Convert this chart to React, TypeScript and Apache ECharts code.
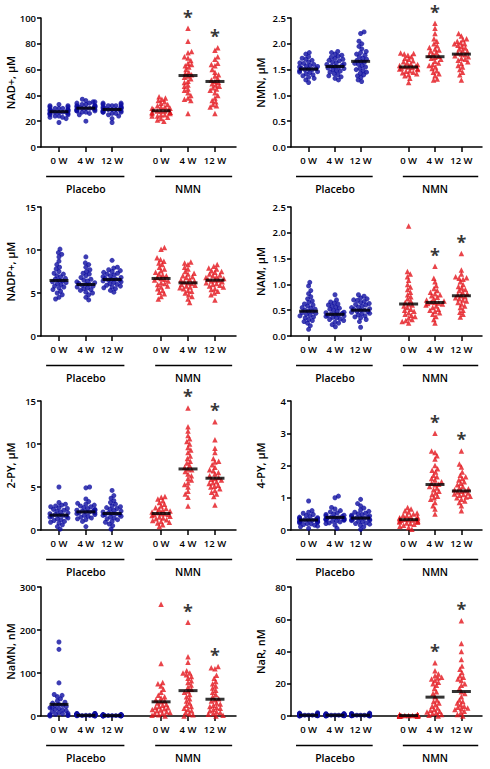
import React, { useEffect, useRef } from "react";
import * as echarts from "echarts";

// ---------- labels ----------
const timeLabels = ["0 W", "4 W", "12 W", "0 W", "4 W", "12 W"];
const groupNames = ["Placebo", "NMN"];
// x positions of the six groups on each panel's x value axis (0..7.6)
const catPos = [0.7, 1.75, 2.77, 4.68, 5.73, 6.78];

// ---------- data: groups = Placebo 0W, 4W, 12W, NMN 0W, 4W, 12W ----------
const nadPlus: number[][] = [
  [19, 22, 23, 24, 24, 25, 25, 26, 26, 26, 27, 27, 27, 27, 28, 28, 28, 28, 29, 29, 29, 30, 30, 30, 31, 31, 32, 32, 33, 23],
  [20, 25, 26, 27, 27, 28, 28, 29, 29, 29, 30, 30, 30, 30, 31, 31, 31, 32, 32, 32, 33, 33, 34, 34, 35, 35, 36, 37, 28, 31],
  [19, 22, 24, 25, 26, 26, 27, 27, 28, 28, 28, 29, 29, 29, 29, 30, 30, 30, 31, 31, 31, 32, 32, 33, 33, 34, 34, 27, 30, 32],
  [20, 21, 22, 23, 24, 24, 25, 25, 26, 26, 27, 27, 27, 28, 28, 28, 29, 29, 30, 30, 31, 31, 32, 33, 34, 35, 36, 37, 38, 39],
  [92, 82, 74, 73, 70, 69, 67, 65, 64, 63, 62, 60, 58, 57, 56, 55, 54, 53, 51, 50, 48, 47, 45, 44, 42, 40, 38, 37, 36, 26],
  [77, 75, 70, 68, 65, 64, 63, 60, 58, 56, 55, 53, 52, 51, 50, 49, 48, 47, 46, 45, 44, 42, 40, 38, 36, 35, 33, 32, 31, 26],
];
const nadPlusMedians = [27.4, 30.1, 29.1, 28.1, 55.4, 50.8];

const nmn: number[][] = [
  [1.25, 1.3, 1.33, 1.35, 1.38, 1.4, 1.42, 1.44, 1.45, 1.46, 1.48, 1.5, 1.5, 1.51, 1.52, 1.53, 1.55, 1.56, 1.57, 1.58, 1.6, 1.62, 1.63, 1.65, 1.68, 1.7, 1.72, 1.75, 1.8, 1.83],
  [1.3, 1.33, 1.36, 1.38, 1.4, 1.42, 1.45, 1.47, 1.48, 1.5, 1.52, 1.53, 1.55, 1.56, 1.57, 1.58, 1.6, 1.61, 1.63, 1.65, 1.67, 1.68, 1.7, 1.72, 1.74, 1.76, 1.78, 1.8, 1.83, 1.85],
  [1.27, 1.3, 1.35, 1.38, 1.4, 1.43, 1.45, 1.48, 1.5, 1.52, 1.55, 1.58, 1.6, 1.62, 1.64, 1.66, 1.68, 1.7, 1.72, 1.75, 1.78, 1.8, 1.83, 1.85, 1.9, 1.95, 2.0, 2.05, 2.2, 2.23],
  [1.25, 1.33, 1.38, 1.4, 1.42, 1.44, 1.45, 1.47, 1.48, 1.5, 1.51, 1.52, 1.53, 1.54, 1.55, 1.56, 1.57, 1.58, 1.6, 1.61, 1.63, 1.65, 1.67, 1.7, 1.72, 1.75, 1.78, 1.8, 1.81, 1.82],
  [1.3, 1.32, 1.38, 1.42, 1.45, 1.48, 1.52, 1.55, 1.58, 1.6, 1.63, 1.66, 1.7, 1.72, 1.74, 1.76, 1.78, 1.8, 1.83, 1.86, 1.88, 1.9, 1.93, 1.96, 2.0, 2.05, 2.1, 2.2, 2.3, 2.4],
  [1.3, 1.4, 1.45, 1.5, 1.55, 1.58, 1.62, 1.65, 1.68, 1.7, 1.72, 1.75, 1.77, 1.79, 1.8, 1.82, 1.85, 1.87, 1.9, 1.92, 1.95, 1.97, 2.0, 2.0, 2.02, 2.05, 2.08, 2.1, 2.15, 2.2],
];
const nmnMedians = [1.51, 1.56, 1.66, 1.55, 1.75, 1.8];

const nadp: number[][] = [
  [4.3, 4.5, 4.8, 5.0, 5.2, 5.4, 5.6, 5.7, 5.8, 6.0, 6.1, 6.2, 6.3, 6.4, 6.5, 6.6, 6.7, 6.9, 7.0, 7.2, 7.3, 7.5, 7.8, 8.0, 8.3, 8.7, 9.2, 9.5, 9.7, 10.1],
  [4.2, 4.5, 4.8, 5.0, 5.1, 5.3, 5.4, 5.5, 5.6, 5.7, 5.8, 5.9, 6.0, 6.0, 6.1, 6.2, 6.3, 6.4, 6.5, 6.6, 6.8, 7.0, 7.2, 7.3, 7.5, 7.7, 8.0, 8.3, 8.5, 9.2],
  [5.1, 5.3, 5.5, 5.6, 5.7, 5.8, 5.9, 6.0, 6.1, 6.2, 6.3, 6.4, 6.5, 6.5, 6.6, 6.6, 6.7, 6.8, 6.9, 7.0, 7.1, 7.2, 7.3, 7.4, 7.5, 7.6, 7.7, 7.9, 8.0, 8.8],
  [4.3, 4.6, 4.9, 5.1, 5.3, 5.5, 5.7, 5.8, 6.0, 6.1, 6.2, 6.4, 6.5, 6.6, 6.7, 6.8, 7.0, 7.1, 7.2, 7.4, 7.6, 7.8, 8.0, 8.3, 8.5, 8.7, 8.9, 9.1, 10.1, 10.3],
  [3.9, 4.3, 4.6, 4.8, 5.0, 5.2, 5.3, 5.5, 5.6, 5.7, 5.8, 5.9, 6.0, 6.1, 6.2, 6.3, 6.4, 6.5, 6.6, 6.8, 6.9, 7.0, 7.2, 7.3, 7.5, 7.8, 8.0, 8.3, 8.5, 8.6],
  [4.2, 4.8, 5.0, 5.2, 5.4, 5.5, 5.7, 5.8, 5.9, 6.0, 6.1, 6.2, 6.3, 6.4, 6.5, 6.5, 6.6, 6.7, 6.8, 6.9, 7.0, 7.1, 7.2, 7.4, 7.5, 7.6, 7.8, 7.9, 8.1, 8.3],
];
const nadpMedians = [6.46, 5.99, 6.57, 6.69, 6.18, 6.49];

const nam: number[][] = [
  [0.13, 0.2, 0.25, 0.28, 0.3, 0.32, 0.35, 0.37, 0.39, 0.4, 0.42, 0.44, 0.45, 0.47, 0.48, 0.5, 0.52, 0.54, 0.55, 0.58, 0.6, 0.62, 0.65, 0.68, 0.72, 0.76, 0.82, 0.88, 0.97, 1.04],
  [0.18, 0.22, 0.25, 0.27, 0.3, 0.32, 0.33, 0.35, 0.36, 0.38, 0.39, 0.4, 0.41, 0.42, 0.43, 0.44, 0.45, 0.46, 0.48, 0.5, 0.52, 0.54, 0.56, 0.58, 0.6, 0.62, 0.64, 0.66, 0.7, 0.8],
  [0.17, 0.28, 0.32, 0.35, 0.37, 0.39, 0.41, 0.43, 0.44, 0.46, 0.47, 0.48, 0.5, 0.5, 0.52, 0.53, 0.55, 0.56, 0.58, 0.6, 0.61, 0.63, 0.65, 0.67, 0.69, 0.7, 0.72, 0.74, 0.77, 0.8],
  [0.25, 0.28, 0.3, 0.32, 0.35, 0.38, 0.4, 0.42, 0.45, 0.48, 0.5, 0.52, 0.55, 0.58, 0.6, 0.62, 0.65, 0.68, 0.72, 0.76, 0.8, 0.85, 0.9, 0.95, 1.0, 1.08, 1.15, 1.2, 1.25, 2.13],
  [0.25, 0.32, 0.38, 0.42, 0.45, 0.48, 0.5, 0.52, 0.55, 0.58, 0.6, 0.62, 0.63, 0.64, 0.65, 0.66, 0.68, 0.7, 0.72, 0.75, 0.78, 0.8, 0.82, 0.85, 0.88, 0.92, 0.98, 1.05, 1.12, 1.35],
  [0.37, 0.42, 0.46, 0.5, 0.55, 0.58, 0.62, 0.65, 0.68, 0.7, 0.72, 0.74, 0.76, 0.78, 0.8, 0.82, 0.85, 0.88, 0.9, 0.93, 0.96, 1.0, 1.05, 1.1, 1.12, 1.13, 1.15, 1.2, 1.28, 1.6],
];
const namMedians = [0.48, 0.42, 0.5, 0.62, 0.65, 0.78];

const py2: number[][] = [
  [0.1, 0.4, 0.6, 0.8, 0.9, 1.0, 1.1, 1.2, 1.3, 1.4, 1.5, 1.6, 1.6, 1.7, 1.7, 1.8, 1.9, 2.0, 2.1, 2.2, 2.3, 2.4, 2.5, 2.6, 2.7, 2.8, 2.9, 3.0, 3.2, 5.0],
  [0.4, 1.0, 1.2, 1.3, 1.4, 1.5, 1.6, 1.7, 1.8, 1.9, 2.0, 2.0, 2.1, 2.1, 2.2, 2.2, 2.3, 2.3, 2.4, 2.5, 2.6, 2.7, 2.8, 2.9, 3.0, 3.1, 3.3, 3.6, 4.9, 5.0],
  [0.1, 0.5, 0.7, 0.9, 1.0, 1.2, 1.3, 1.4, 1.5, 1.6, 1.7, 1.8, 1.8, 1.9, 1.9, 2.0, 2.1, 2.2, 2.3, 2.4, 2.5, 2.6, 2.7, 2.8, 3.0, 3.2, 3.4, 3.7, 4.0, 4.6],
  [0.4, 0.6, 0.8, 0.9, 1.0, 1.1, 1.2, 1.3, 1.4, 1.5, 1.6, 1.7, 1.8, 1.8, 1.9, 1.9, 2.0, 2.1, 2.2, 2.3, 2.4, 2.5, 2.6, 2.8, 3.0, 3.2, 3.4, 3.6, 3.8, 3.9],
  [2.8, 3.8, 4.2, 4.5, 5.0, 5.3, 5.5, 5.8, 6.0, 6.3, 6.5, 6.8, 7.0, 7.1, 7.3, 7.5, 7.8, 8.0, 8.3, 8.6, 9.0, 9.3, 9.6, 10.0, 10.3, 10.6, 11.0, 11.5, 12.0, 14.2],
  [2.9, 3.9, 4.2, 4.4, 4.6, 4.8, 5.0, 5.1, 5.2, 5.4, 5.5, 5.6, 5.8, 5.9, 6.0, 6.1, 6.3, 6.5, 6.7, 6.9, 7.0, 7.3, 7.6, 7.9, 8.0, 8.3, 9.0, 9.5, 10.5, 12.6],
];
const py2Medians = [1.73, 2.11, 1.92, 1.92, 7.1, 6.02];

const py4: number[][] = [
  [0.05, 0.1, 0.12, 0.15, 0.17, 0.19, 0.2, 0.22, 0.24, 0.25, 0.26, 0.27, 0.28, 0.29, 0.3, 0.31, 0.32, 0.33, 0.34, 0.35, 0.37, 0.38, 0.4, 0.42, 0.45, 0.48, 0.52, 0.55, 0.6, 0.9],
  [0.05, 0.15, 0.2, 0.22, 0.25, 0.27, 0.28, 0.3, 0.31, 0.32, 0.33, 0.34, 0.35, 0.36, 0.37, 0.38, 0.39, 0.4, 0.42, 0.44, 0.46, 0.48, 0.5, 0.53, 0.56, 0.6, 0.65, 0.7, 1.0, 1.05],
  [0.02, 0.1, 0.15, 0.18, 0.2, 0.22, 0.25, 0.27, 0.29, 0.3, 0.32, 0.33, 0.35, 0.36, 0.37, 0.38, 0.4, 0.42, 0.44, 0.46, 0.48, 0.5, 0.52, 0.55, 0.58, 0.62, 0.68, 0.75, 0.82, 0.95],
  [0.02, 0.08, 0.12, 0.15, 0.18, 0.2, 0.22, 0.24, 0.25, 0.27, 0.28, 0.29, 0.3, 0.31, 0.32, 0.33, 0.34, 0.35, 0.36, 0.38, 0.4, 0.42, 0.44, 0.46, 0.5, 0.53, 0.56, 0.6, 0.65, 0.7],
  [0.5, 0.65, 0.75, 0.85, 0.95, 1.0, 1.05, 1.1, 1.15, 1.2, 1.25, 1.3, 1.35, 1.4, 1.42, 1.45, 1.5, 1.55, 1.6, 1.65, 1.7, 1.8, 1.85, 1.9, 2.0, 2.2, 2.3, 2.4, 2.45, 3.0],
  [0.6, 0.75, 0.85, 0.9, 0.95, 1.0, 1.02, 1.05, 1.08, 1.1, 1.12, 1.15, 1.18, 1.2, 1.22, 1.25, 1.28, 1.3, 1.35, 1.4, 1.45, 1.5, 1.55, 1.6, 1.65, 1.7, 1.8, 1.95, 2.05, 2.45],
];
const py4Medians = [0.31, 0.39, 0.37, 0.32, 1.41, 1.21];

const namn: number[][] = [
  [0, 1, 2, 3, 4, 5, 6, 8, 10, 12, 14, 15, 17, 19, 20, 22, 24, 25, 27, 30, 32, 35, 40, 45, 48, 50, 77, 155, 172, 2],
  [0, 0.5, 1, 1, 1.5, 2, 2, 2, 2.5, 3, 3, 3, 3.5, 4, 4, 4, 4.5, 5, 5, 5.5, 6, 1, 2, 3, 0.5, 1.5, 2.5, 3.5, 4.5, 6],
  [0, 0.2, 0.5, 0.5, 0.8, 1, 1, 1, 1.2, 1.5, 1.5, 1.8, 2, 2, 2, 2.2, 2.5, 2.5, 2.8, 3, 0.3, 0.6, 0.9, 1.1, 1.3, 1.6, 1.9, 2.3, 2.6, 3],
  [0, 2, 3, 5, 6, 8, 10, 12, 14, 15, 17, 19, 20, 22, 25, 27, 30, 33, 35, 38, 42, 45, 48, 55, 62, 70, 75, 78, 122, 260],
  [0, 3, 5, 8, 12, 15, 18, 22, 25, 30, 35, 40, 45, 50, 55, 58, 62, 67, 72, 78, 82, 88, 92, 96, 100, 100, 105, 125, 138, 218],
  [0, 2, 4, 6, 8, 10, 12, 15, 18, 20, 22, 25, 28, 30, 35, 38, 40, 45, 50, 55, 60, 65, 70, 75, 80, 88, 95, 110, 112, 115],
];
const namnMedians = [27, 1.5, 1, 33, 59, 39];

const nar: number[][] = [
  [0, 0.1, 0.2, 0.2, 0.3, 0.3, 0.4, 0.4, 0.5, 0.5, 0.5, 0.6, 0.6, 0.7, 0.7, 0.8, 0.8, 0.9, 1.0, 1.0, 1.1, 1.2, 1.3, 1.4, 1.5, 1.6, 1.8, 2.0, 0.2, 0.6],
  [0, 0.1, 0.2, 0.2, 0.3, 0.3, 0.4, 0.4, 0.5, 0.5, 0.5, 0.6, 0.6, 0.7, 0.7, 0.8, 0.8, 0.9, 1.0, 1.0, 1.1, 1.2, 1.3, 1.4, 1.5, 0.3, 0.4, 0.6, 0.2, 0.9],
  [0, 0.1, 0.2, 0.2, 0.3, 0.3, 0.4, 0.4, 0.5, 0.5, 0.5, 0.6, 0.6, 0.7, 0.7, 0.8, 0.8, 0.9, 1.0, 1.0, 1.1, 1.2, 1.3, 1.4, 1.6, 1.8, 0.4, 0.6, 0.3, 0.9],
  [0, 0.05, 0.1, 0.1, 0.15, 0.2, 0.2, 0.25, 0.3, 0.3, 0.3, 0.35, 0.4, 0.4, 0.45, 0.5, 0.5, 0.55, 0.6, 0.6, 0.65, 0.7, 0.8, 0.2, 0.3, 0.4, 0.1, 0.5, 0.25, 0.35],
  [0, 0.5, 1, 1.5, 2, 2.5, 3, 3.5, 4, 5, 6, 7, 8, 9, 10, 12, 14, 15, 17, 19, 20, 21, 22, 23, 23.5, 24, 25, 26, 28, 33],
  [0, 1, 2, 3, 4, 5, 5.5, 6, 7, 8, 9, 10, 12, 14, 15, 17, 19, 20, 22, 23, 24, 25, 27, 29, 31, 35, 40, 45, 59, 4.5],
];
const narMedians = [0.5, 0.5, 0.5, 0.3, 11.7, 15.2];

type Panel = { name: string; values: number[][]; medians: number[]; stars: number[]; max: number; interval: number; decimals: number };

const panels: Panel[] = [
  { name: "NAD+, µM", values: nadPlus, medians: nadPlusMedians, stars: [4, 5], max: 100, interval: 20, decimals: 0 },
  { name: "NMN, µM", values: nmn, medians: nmnMedians, stars: [4], max: 2.5, interval: 0.5, decimals: 1 },
  { name: "NADP+, µM", values: nadp, medians: nadpMedians, stars: [], max: 15, interval: 5, decimals: 0 },
  { name: "NAM, µM", values: nam, medians: namMedians, stars: [4, 5], max: 2.5, interval: 0.5, decimals: 1 },
  { name: "2-PY, µM", values: py2, medians: py2Medians, stars: [4, 5], max: 15, interval: 5, decimals: 0 },
  { name: "4-PY, µM", values: py4, medians: py4Medians, stars: [4, 5], max: 4, interval: 1, decimals: 0 },
  { name: "NaMN, nM", values: namn, medians: namnMedians, stars: [4, 5], max: 300, interval: 100, decimals: 0 },
  { name: "NaR, nM", values: nar, medians: narMedians, stars: [4, 5], max: 80, interval: 20, decimals: 0 },
];

// ---------- layout ----------
const X_MAX = 7.6;
const rowTops = [18, 207, 401, 587];
const PLOT_H = 129;
const colLeft = [41, 291];
const colWidth = [195, 191];
const BLUE = "#0c0ca0";
const RED = "#e3151d";
const FONT = "Open Sans";

// deterministic beeswarm: spreads points horizontally so they don't overlap
function swarm(vals: number[], center: number, pxPerY: number, diam: number, maxHalf: number): number[] {
  const order = vals.map((_, i) => i).sort((a, b) => Math.abs(vals[a] - center) - Math.abs(vals[b] - center) || a - b);
  const placed: { x: number; y: number }[] = [];
  const out = new Array(vals.length).fill(0);
  let flip = 1;
  for (const i of order) {
    const y = vals[i] * pxPerY;
    const near = placed.filter((p) => Math.abs(p.y - y) < diam);
    const cands = [0];
    for (const p of near) {
      const dx = Math.sqrt(diam * diam - (p.y - y) * (p.y - y));
      cands.push(p.x + dx, p.x - dx);
    }
    cands.sort((a, b) => Math.abs(a) - Math.abs(b) || (a - b) * flip);
    let best = cands[cands.length - 1];
    for (const c of cands) {
      if (near.every((p) => (p.x - c) * (p.x - c) + (p.y - y) * (p.y - y) >= diam * diam - 1e-6)) {
        best = c;
        break;
      }
    }
    flip = -flip;
    best = Math.max(-maxHalf, Math.min(maxHalf, best));
    placed.push({ x: best, y });
    out[i] = best;
  }
  return out;
}

export default function App() {
  const ref = useRef<HTMLDivElement>(null);
  useEffect(() => {
    if (!ref.current) return;
    const chart = echarts.init(ref.current, null, { renderer: "svg" });
    const grids: any[] = [];
    const xAxes: any[] = [];
    const yAxes: any[] = [];
    const series: any[] = [];
    const textStyle = { color: "#000", fontFamily: FONT, fontWeight: 600 };

    panels.forEach((p, i) => {
      const col = i % 2;
      const row = Math.floor(i / 2);
      grids.push({ left: colLeft[col], top: rowTops[row], width: colWidth[col], height: PLOT_H });
      xAxes.push({
        gridIndex: i,
        type: "value",
        min: 0,
        max: X_MAX,
        splitLine: { show: false },
        axisLine: { lineStyle: { color: "#000", width: 1.5 } },
        axisTick: { customValues: catPos, length: 5, lineStyle: { color: "#000", width: 1.5 } },
        axisLabel: {
          customValues: catPos,
          margin: 8,
          fontSize: 9.5,
          ...textStyle,
          formatter: (v: number) => {
            const k = catPos.findIndex((c) => Math.abs(c - v) < 1e-6);
            return k >= 0 ? timeLabels[k] : "";
          },
        },
      });
      yAxes.push({
        gridIndex: i,
        type: "value",
        min: 0,
        max: p.max,
        interval: p.interval,
        name: p.name,
        nameLocation: "middle",
        nameGap: 25,
        nameTextStyle: { fontSize: 11, ...textStyle },
        splitLine: { show: false },
        axisLine: { show: true, lineStyle: { color: "#000", width: 1.5 } },
        axisTick: { show: true, length: 4, lineStyle: { color: "#000", width: 1.5 } },
        axisLabel: { margin: 5, fontSize: 9.5, ...textStyle, formatter: (v: number) => v.toFixed(p.decimals) },
      });
      const pxPerY = PLOT_H / p.max;
      const pxPerX = colWidth[col] / X_MAX;
      const pts: number[][][] = [[], []];
      p.values.forEach((vals, g) => {
        const offs = swarm(vals, p.medians[g], pxPerY, 3.8, 9);
        vals.forEach((v, k) => pts[g < 3 ? 0 : 1].push([catPos[g] + offs[k] / pxPerX, v]));
      });
      series.push({
        type: "scatter", xAxisIndex: i, yAxisIndex: i, data: pts[0],
        symbol: "circle", symbolSize: 5, itemStyle: { color: BLUE }, z: 2,
      });
      series.push({
        type: "scatter", xAxisIndex: i, yAxisIndex: i, data: pts[1],
        symbol: "triangle", symbolSize: 5.5, itemStyle: { color: RED }, z: 2,
      });
      series.push({
        type: "scatter", xAxisIndex: i, yAxisIndex: i,
        data: p.medians.map((m, g) => [catPos[g], m]),
        symbol: "rect", symbolSize: [19, 3], itemStyle: { color: "#000" }, z: 5,
      });
      if (p.stars.length) {
        series.push({
          type: "scatter", xAxisIndex: i, yAxisIndex: i,
          data: p.stars.map((g) => [catPos[g], Math.max(...p.values[g])]),
          symbol: "circle", symbolSize: 1, itemStyle: { color: "rgba(0,0,0,0)" }, z: 6,
          label: {
            show: true, position: "top", distance: 5, formatter: "*",
            fontSize: 18, fontWeight: "bold", lineHeight: 12, color: "#000", fontFamily: FONT,
          },
        });
      }
    });

    chart.setOption({
      animation: false,
      grid: grids,
      xAxis: xAxes,
      yAxis: yAxes,
      series,
    });

    // group brackets and names under each panel
    const graphic: any[] = [];
    panels.forEach((_, i) => {
      const spans = [[0.2, 3.25], [4.45, 7.45]];
      spans.forEach((s, gi) => {
        const a = chart.convertToPixel({ gridIndex: i }, [s[0], 0]) as number[];
        const b = chart.convertToPixel({ gridIndex: i }, [s[1], 0]) as number[];
        const mid = chart.convertToPixel({ gridIndex: i }, [catPos[gi * 3 + 1], 0]) as number[];
        graphic.push({
          type: "line",
          shape: { x1: a[0], y1: a[1] + 29.5, x2: b[0], y2: b[1] + 29.5 },
          style: { stroke: "#000", lineWidth: 1.3 },
        });
        graphic.push({
          type: "text",
          x: mid[0],
          y: mid[1] + 42,
          style: { text: groupNames[gi], fill: "#000", font: `600 10.5px '${FONT}'`, textAlign: "center", textVerticalAlign: "middle" },
        });
      });
    });
    chart.setOption({ graphic });

    return () => chart.dispose();
  }, []);
  return <div ref={ref} style={{ position: "fixed", left: 0, top: 0, width: 490, height: 769, background: "#fff" }} />;
}
